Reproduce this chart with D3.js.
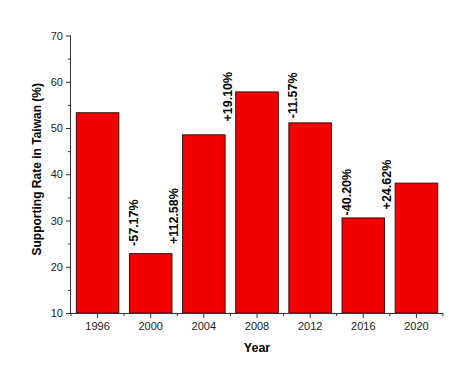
<!DOCTYPE html>
<html>
<head>
<meta charset="utf-8">
<script src="https://cdn.jsdelivr.net/npm/d3@7"></script>
<style>
  html, body { margin: 0; padding: 0; background: #fff; }
  svg { display: block; }
  text { font-family: Arial, "Liberation Sans", sans-serif; }
</style>
</head>
<body>
<svg id="chart" width="472" height="384"></svg>
<script>
const years = ["1996", "2000", "2004", "2008", "2012", "2016", "2020"];
const rates = [53.3, 22.83, 48.53, 57.8, 51.11, 30.56, 38.08];
const changeLabels = ["-57.17%", "+112.58%", "+19.10%", "-11.57%", "-40.20%", "+24.62%"];
const labelBase = [24.5, 24.9, 51.4, 52.1, 31.1, 32.4];
const yTicks = [10, 20, 30, 40, 50, 60, 70];
const yMinorTicks = [15, 25, 35, 45, 55, 65];

(function () {
const svg = d3.select("#chart");
const pLeft = 71, pRight = 443, pTop = 35.5, pBottom = 313;
const axisColor = "#333";

const x = d3.scaleBand().domain(years).range([pLeft, pRight]).paddingInner(0.2).paddingOuter(0.1);
const y = d3.scaleLinear().domain([10, 70]).range([pBottom, pTop]);

// bars
svg.append("g").selectAll("rect").data(years).join("rect")
  .attr("x", d => x(d))
  .attr("y", (d, i) => y(rates[i]))
  .attr("width", x.bandwidth())
  .attr("height", (d, i) => y(10) - y(rates[i]))
  .attr("fill", "#f40000")
  .attr("stroke", "#3a1010")
  .attr("stroke-width", 1);

// y axis
const yAxis = svg.append("g").attr("transform", `translate(${pLeft},0)`)
  .call(d3.axisLeft(y).tickValues(yTicks).tickSize(5).tickPadding(3).tickFormat(d3.format("d")));
yAxis.select(".domain").attr("stroke", axisColor).attr("d", `M-0.5,${pTop}V${pBottom}`);
yAxis.selectAll(".tick line").attr("stroke", axisColor);
yAxis.selectAll(".tick text").attr("fill", "#222").style("font-size", "11px").style("font-family", "Arial, 'Liberation Sans', sans-serif");
svg.append("g").selectAll("line").data(yMinorTicks).join("line")
  .attr("x1", pLeft - 3).attr("x2", pLeft)
  .attr("y1", d => y(d) + 0.5).attr("y2", d => y(d) + 0.5)
  .attr("stroke", axisColor);

// x axis
const xAxis = svg.append("g").attr("transform", `translate(0,${pBottom})`)
  .call(d3.axisBottom(x).tickSize(5).tickPadding(4));
xAxis.select(".domain").attr("stroke", axisColor).attr("d", `M${pLeft},0.5H${pRight}`);
xAxis.selectAll(".tick line").attr("stroke", axisColor);
xAxis.selectAll(".tick text").attr("fill", "#222").style("font-size", "11px").style("font-family", "Arial, 'Liberation Sans', sans-serif");
const boundaries = years.map(d => x(d) - x.step() * x.paddingInner() / 2).concat([pRight]);
svg.append("g").selectAll("line").data(boundaries).join("line")
  .attr("x1", d => d).attr("x2", d => d)
  .attr("y1", pBottom).attr("y2", pBottom + 3)
  .attr("stroke", axisColor);

// axis titles
svg.append("text")
  .attr("x", (pLeft + pRight) / 2).attr("y", 352)
  .attr("text-anchor", "middle")
  .style("font-size", "12.5px").style("font-weight", "bold")
  .text("Year");
svg.append("text")
  .attr("transform", `translate(37,${(pTop + pBottom) / 2 - 5}) rotate(-90)`)
  .attr("text-anchor", "middle")
  .attr("dy", "0.36em")
  .style("font-size", "12px").style("font-weight", "bold")
  .text("Supporting Rate in Taiwan (%)");

// change labels
svg.append("g").selectAll("text").data(changeLabels).join("text")
  .attr("transform", (d, i) => {
    const neg = d.startsWith("-");
    const lx = neg ? x(years[i + 1]) + 4 : x(years[i]) + x.bandwidth() + 2;
    return `translate(${lx},${y(labelBase[i])}) rotate(-90)`;
  })
  .attr("text-anchor", "start")
  .attr("dy", "0.36em")
  .style("font-size", "12.5px").style("font-weight", "bold")
  .attr("fill", "#000")
  .text(d => d);
})();
</script>
</body>
</html>
